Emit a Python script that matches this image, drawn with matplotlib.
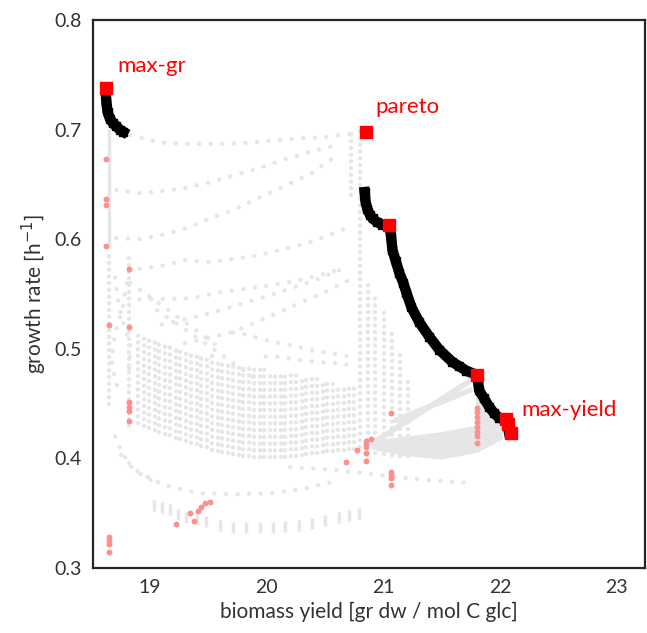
import matplotlib
matplotlib.use('Agg')
import matplotlib.pyplot as plt

plt.rcParams['font.family'] = ['Lato', 'DejaVu Sans']

# pareto front (black)
mg_x = [18.618, 18.625, 18.635, 18.655, 18.68, 18.71, 18.74, 18.77]
mg_y = [0.736, 0.725, 0.716, 0.710, 0.706, 0.703, 0.700, 0.698]

par_x = [20.838, 20.845, 20.860, 20.885, 20.906, 20.940, 20.991, 21.051, 21.065, 21.077, 21.105,
         21.137, 21.170, 21.197, 21.239, 21.308, 21.393, 21.479, 21.590, 21.650, 21.709, 21.803,
         21.820, 21.860, 21.906, 21.950, 21.991, 22.051, 22.077]
par_y = [0.643, 0.635, 0.628, 0.622, 0.619, 0.616, 0.613, 0.613, 0.602, 0.590, 0.580,
         0.569, 0.560, 0.551, 0.538, 0.524, 0.511, 0.499, 0.488, 0.484, 0.480, 0.476,
         0.462, 0.455, 0.447, 0.441, 0.437, 0.435, 0.423]

# highlighted solutions (red squares)
red_x = [18.62, 20.85, 21.05, 21.80, 22.05, 22.07, 22.09]
red_y = [0.738, 0.698, 0.613, 0.476, 0.436, 0.431, 0.423]

# pink points
pink_x = [18.62, 18.62, 18.62, 18.62, 18.82, 18.65, 18.82, 18.82, 18.82, 18.82, 18.82,
          18.65, 18.65, 18.65, 18.65, 19.22, 19.34, 19.38, 19.41, 19.44, 19.47, 19.51,
          20.68, 20.77, 20.85, 20.85, 20.85, 20.85, 20.85, 20.89, 21.06, 21.06, 21.06, 21.06, 21.06,
          21.80, 21.80, 21.80, 21.80, 21.80, 21.80, 21.80, 21.80]
pink_y = [0.673, 0.637, 0.631, 0.594, 0.573, 0.522, 0.520, 0.451, 0.447, 0.443, 0.434,
          0.328, 0.325, 0.322, 0.315, 0.340, 0.350, 0.343, 0.352, 0.356, 0.359, 0.360,
          0.397, 0.408, 0.416, 0.413, 0.410, 0.405, 0.398, 0.418, 0.441, 0.388, 0.385, 0.382, 0.376,
          0.446, 0.442, 0.438, 0.433, 0.429, 0.424, 0.420, 0.414]

# faint dotted curves of the other solutions
curves = [
    ([18.83, 19.01, 19.13, 19.31, 19.51, 19.68, 19.82, 20.05, 20.28, 20.50, 20.62, 20.72],
     [0.695, 0.690, 0.688, 0.687, 0.687, 0.687, 0.688, 0.690, 0.692, 0.693, 0.695, 0.696]),
    ([18.71, 18.91, 19.11, 19.31, 19.52, 19.74, 19.94, 20.16, 20.38, 20.61],
     [0.645, 0.642, 0.644, 0.647, 0.652, 0.659, 0.665, 0.673, 0.680, 0.686]),
    ([18.71, 18.91, 19.11, 19.31, 19.52, 19.74, 19.94, 20.16, 20.38, 20.62],
     [0.601, 0.600, 0.604, 0.610, 0.619, 0.628, 0.638, 0.649, 0.660, 0.678]),
    ([18.91, 19.11, 19.31, 19.51, 19.71, 19.91, 20.11, 20.33, 20.54, 20.72],
     [0.573, 0.576, 0.581, 0.579, 0.582, 0.585, 0.590, 0.596, 0.604, 0.612]),
    ([18.91, 19.34, 19.62, 19.91, 20.20, 20.45, 20.67],
     [0.545, 0.546, 0.552, 0.556, 0.561, 0.567, 0.574]),
    ([19.10, 19.50, 20.00, 20.40, 20.70],
     [0.522, 0.532, 0.548, 0.562, 0.575]),
    ([19.30, 19.70, 20.10, 20.50, 20.75],
     [0.505, 0.515, 0.533, 0.552, 0.565]),
    ([19.71, 19.82, 19.99, 20.07, 20.14, 20.26, 20.33, 20.41, 20.55, 20.62, 20.71],
     [0.515, 0.513, 0.508, 0.506, 0.505, 0.502, 0.500, 0.498, 0.496, 0.495, 0.493]),
    ([19.99, 20.07, 20.26, 20.33, 20.55, 20.62, 20.71],
     [0.493, 0.493, 0.490, 0.489, 0.487, 0.487, 0.485]),
    ([18.83, 19.20, 19.62], [0.560, 0.532, 0.499]),
    ([19.06, 19.50, 19.91], [0.535, 0.503, 0.472]),
    ([18.70, 18.73, 18.78, 18.83, 18.82], [0.565, 0.540, 0.520, 0.505, 0.480]),
    ([18.80, 18.76, 18.70, 18.67, 18.70, 18.76], [0.560, 0.535, 0.515, 0.490, 0.470, 0.458]),
    ([18.75, 18.88, 19.03, 19.14, 19.30, 19.43, 19.58, 19.73, 19.86, 20.01, 20.16, 20.31, 20.48, 20.62],
     [0.403, 0.389, 0.380, 0.375, 0.371, 0.368, 0.368, 0.367, 0.368, 0.368, 0.370, 0.372, 0.377, 0.379]),
    ([18.70, 18.76, 18.84, 18.95, 19.05], [0.420, 0.405, 0.392, 0.383, 0.378]),
    ([20.20, 20.50, 20.80, 21.10, 21.40, 21.70], [0.392, 0.390, 0.387, 0.383, 0.380, 0.378]),
]

# short vertical streaks of the lowest group
low_x = [19.03, 19.10, 19.17, 19.24, 19.31, 19.40, 19.48, 19.60, 19.71, 19.82, 19.94, 20.05,
         20.16, 20.28, 20.39, 20.50, 20.62, 20.70, 20.79]
low_y = [0.357, 0.355, 0.353, 0.349, 0.346, 0.344, 0.342, 0.339, 0.337, 0.337, 0.337, 0.337,
         0.338, 0.339, 0.341, 0.343, 0.346, 0.348, 0.350]

# dense columns in the middle of the cloud
col_x = [18.90, 18.95, 18.99, 19.04, 19.08, 19.13, 19.17, 19.22, 19.26, 19.31, 19.35, 19.40,
         19.44, 19.49, 19.53, 19.58, 19.62, 19.67, 19.71, 19.76, 19.80, 19.85, 19.89, 19.94,
         19.98, 20.03, 20.07, 20.12, 20.16, 20.21, 20.25, 20.30, 20.34, 20.39, 20.43, 20.48,
         20.52, 20.57, 20.61, 20.66, 20.70, 20.75]
col_top = [0.515, 0.513, 0.512, 0.510, 0.508, 0.506, 0.505, 0.503, 0.501, 0.500, 0.498, 0.497,
           0.495, 0.494, 0.493, 0.491, 0.490, 0.489, 0.488, 0.487, 0.486, 0.485, 0.484, 0.483,
           0.482, 0.481, 0.480, 0.479, 0.478, 0.477, 0.476, 0.475, 0.474, 0.473, 0.472, 0.471,
           0.470, 0.469, 0.468, 0.467, 0.466, 0.465]
col_bot = [0.432, 0.430, 0.428, 0.426, 0.424, 0.422, 0.421, 0.419, 0.418, 0.416, 0.414, 0.413,
           0.411, 0.410, 0.408, 0.407, 0.406, 0.405, 0.404, 0.403, 0.402, 0.402, 0.401, 0.401,
           0.401, 0.401, 0.401, 0.401, 0.401, 0.402, 0.402, 0.403, 0.404, 0.405, 0.405, 0.406,
           0.407, 0.407, 0.408, 0.408, 0.409, 0.409]

# single columns at the sides of the cloud
side_x = [18.65, 18.82, 20.72, 20.80, 20.87, 20.93, 21.00, 21.07, 21.14, 21.21]
side_top = [0.590, 0.585, 0.700, 0.700, 0.560, 0.550, 0.535, 0.515, 0.495, 0.475]
side_bot = [0.450, 0.430, 0.640, 0.410, 0.405, 0.405, 0.404, 0.403, 0.402, 0.402]

# wide band near max-yield
lens_x = [20.90, 21.20, 21.50, 21.80, 22.02, 22.02, 21.80, 21.50, 21.20, 20.90]
lens_y = [0.416, 0.420, 0.424, 0.430, 0.433, 0.417, 0.405, 0.399, 0.402, 0.408]
wedge_x = [21.79, 22.04, 21.80]
wedge_y = [0.460, 0.430, 0.415]
diag = [([20.91, 21.76], [0.414, 0.472]), ([21.11, 21.74], [0.435, 0.462])]

labels = ['max-gr', 'pareto', 'max-yield']
label_x = [18.72, 20.93, 22.18]
label_y = [0.758, 0.721, 0.444]

gray = '#e6e6e6'

fig = plt.figure(figsize=(6.47, 6.33), dpi=100)
ax = fig.add_axes([0.1437, 0.1027, 0.853, 0.8657])

# solid grey line on the left
ax.plot([18.645, 18.645], [0.700, 0.595], color=gray, lw=2.5, zorder=1)

for cx, ct, cb in zip(col_x + side_x, col_top + side_top, col_bot + side_bot):
    ax.plot([cx, cx], [cb, ct], color=gray, lw=3.2, ls=(0, (0.01, 1.5)),
            dash_capstyle='round', zorder=1)

for xs, ys in curves:
    ax.plot(xs, ys, color=gray, lw=3.2, ls=(0, (0.01, 2.6)),
            dash_capstyle='round', zorder=1)

ax.vlines(low_x, [v - 0.005 for v in low_y], [v + 0.005 for v in low_y],
          color=gray, lw=2.5, zorder=1)

ax.fill(lens_x, lens_y, color=gray, lw=0, zorder=1)
ax.fill(wedge_x, wedge_y, color=gray, lw=0, zorder=1)
for xs, ys in diag:
    ax.plot(xs, ys, color=gray, lw=4, zorder=1)

ax.scatter(pink_x, pink_y, s=18, color='#ff8f8f', lw=0, zorder=2)

ax.plot(mg_x, mg_y, color='black', lw=7.5, marker='s', ms=6, zorder=3)
ax.plot(par_x, par_y, color='black', lw=7.5, marker='s', ms=6, zorder=3)

ax.plot(red_x, red_y, ls='none', marker='s', ms=9, color='red', zorder=4)

for t, lx, ly in zip(labels, label_x, label_y):
    ax.text(lx, ly, t, color='red', fontsize=16, va='center', ha='left')

ax.set_xlim(18.51, 23.24)
ax.set_ylim(0.3, 0.8)
ax.set_xticks([19, 20, 21, 22, 23])
ax.set_yticks([0.3, 0.4, 0.5, 0.6, 0.7, 0.8])
ax.tick_params(length=0, labelsize=14, labelcolor='#333333', pad=8)
ax.set_xlabel('biomass yield [gr dw / mol C glc]', fontsize=15, color='#333333')
ax.set_ylabel('growth rate [h$^{-1}$]', fontsize=15, color='#333333')
for s in ax.spines.values():
    s.set_color('#262626')
    s.set_linewidth(1.6)

fig.savefig('out.png', dpi=100)
